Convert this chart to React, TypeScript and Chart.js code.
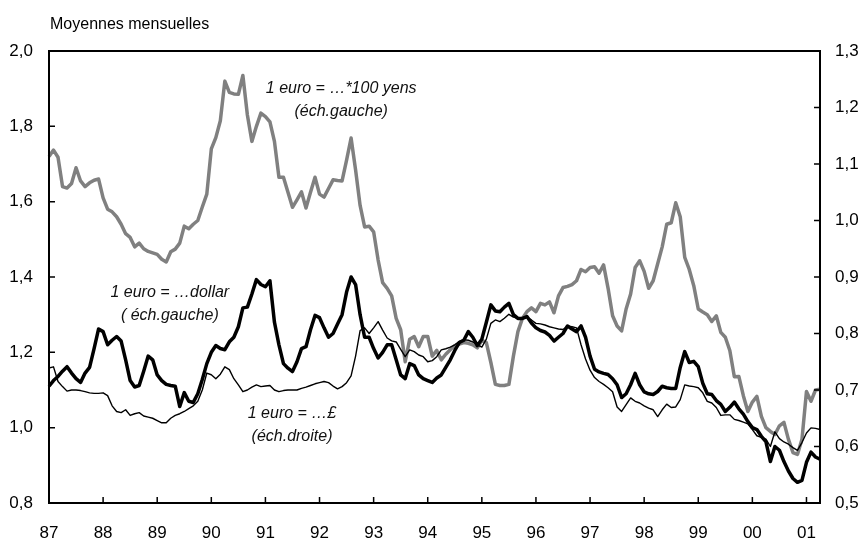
import { useEffect, useRef } from 'react';
import { Chart, registerables } from 'chart.js';

Chart.register(...registerables);

// ---------- data ----------
const YEARS = ['87', '88', '89', '90', '91', '92', '93', '94', '95', '96', '97', '98', '99', '00', '01'];
const MONTHS_IN_LAST_YEAR = 4;

// 1 euro = ... *100 yens (left scale)
const YEN = [
  1.72, 1.737, 1.718, 1.64, 1.636, 1.648, 1.69, 1.655, 1.64, 1.65, 1.657, 1.66,
  1.61, 1.58, 1.573, 1.56, 1.54, 1.515, 1.505, 1.48, 1.49, 1.475, 1.468, 1.464,
  1.46, 1.447, 1.44, 1.467, 1.474, 1.49, 1.535, 1.528, 1.54, 1.55, 1.586, 1.62,
  1.74, 1.77, 1.815, 1.92, 1.89, 1.886, 1.885, 1.935, 1.83, 1.76, 1.8, 1.835,
  1.826, 1.812, 1.76, 1.665, 1.665, 1.625, 1.585, 1.605, 1.626, 1.583, 1.625, 1.665,
  1.62, 1.612, 1.635, 1.658, 1.656, 1.655, 1.71, 1.769, 1.684, 1.59, 1.533, 1.535,
  1.52, 1.445, 1.385, 1.37, 1.35, 1.29, 1.26, 1.175, 1.235, 1.242, 1.215, 1.242,
  1.242, 1.19, 1.205, 1.18, 1.195, 1.207, 1.218, 1.222, 1.226, 1.224, 1.22, 1.212,
  1.232, 1.226, 1.173, 1.115, 1.112, 1.112, 1.115, 1.19, 1.255, 1.29, 1.308, 1.318,
  1.308, 1.33, 1.326, 1.334, 1.305, 1.35, 1.372, 1.375, 1.38, 1.39, 1.42, 1.414,
  1.425, 1.427, 1.41, 1.432, 1.37, 1.297, 1.27, 1.257, 1.315, 1.355, 1.425, 1.443,
  1.415, 1.37, 1.39, 1.435, 1.48, 1.54, 1.544, 1.597, 1.56, 1.452, 1.42, 1.377,
  1.315, 1.307, 1.3, 1.282, 1.297, 1.253, 1.24, 1.205, 1.135, 1.136, 1.085, 1.043,
  1.068, 1.083, 1.03, 1.0, 0.99, 0.982, 1.005, 1.014, 0.969, 0.934, 0.929, 0.969,
  1.096, 1.07, 1.1, 1.102,
];

// 1 euro = ... dollar (left scale)
const DOLLAR = [
  1.11, 1.125, 1.136, 1.15, 1.162, 1.145, 1.13, 1.12, 1.145, 1.16, 1.21, 1.262,
  1.255, 1.22, 1.232, 1.242, 1.23, 1.18, 1.125, 1.108, 1.112, 1.15, 1.19, 1.18,
  1.14, 1.125, 1.115, 1.112, 1.11, 1.056, 1.093, 1.07, 1.067, 1.09, 1.128, 1.17,
  1.2, 1.218, 1.21, 1.207, 1.228, 1.24, 1.268, 1.318, 1.32, 1.355, 1.393, 1.38,
  1.374, 1.39, 1.28, 1.22, 1.17, 1.158, 1.149, 1.175, 1.21, 1.215, 1.26, 1.298,
  1.292, 1.265, 1.24, 1.25, 1.275, 1.3, 1.36, 1.4, 1.38, 1.3, 1.24, 1.24,
  1.21, 1.185, 1.2, 1.22, 1.22, 1.18, 1.14, 1.13, 1.17, 1.165, 1.14, 1.13,
  1.125, 1.12, 1.132, 1.14, 1.16, 1.18, 1.205, 1.226, 1.232, 1.255, 1.24, 1.218,
  1.235, 1.28, 1.326, 1.31, 1.308, 1.32, 1.33, 1.3, 1.29, 1.29, 1.295, 1.278,
  1.265, 1.258, 1.254, 1.245, 1.23, 1.24, 1.25, 1.27, 1.262, 1.255, 1.27, 1.24,
  1.19, 1.155, 1.148, 1.144, 1.141, 1.13, 1.114, 1.08, 1.09, 1.114, 1.144, 1.114,
  1.095, 1.09, 1.088, 1.096, 1.11, 1.106, 1.104, 1.104, 1.16, 1.202, 1.173, 1.176,
  1.162, 1.118, 1.09, 1.088, 1.072, 1.062, 1.043, 1.054, 1.068, 1.05, 1.036, 1.016,
  1.0, 0.995, 0.977, 0.963, 0.91, 0.95, 0.94, 0.91, 0.885, 0.865, 0.855, 0.86,
  0.908, 0.935, 0.922, 0.916,
];

// 1 euro = ... £ (right scale)
const POUND = [
  0.739, 0.741, 0.715, 0.706, 0.698, 0.7, 0.7, 0.699, 0.697, 0.695, 0.694, 0.694,
  0.695, 0.69, 0.672, 0.662, 0.66, 0.665, 0.655, 0.658, 0.66, 0.654, 0.652, 0.65,
  0.646, 0.642, 0.642, 0.65, 0.655, 0.658, 0.662, 0.667, 0.672, 0.68, 0.7, 0.73,
  0.727, 0.72, 0.728, 0.741, 0.736, 0.72, 0.709, 0.697, 0.7, 0.705, 0.709, 0.706,
  0.707, 0.708, 0.7, 0.697, 0.699, 0.7, 0.7, 0.7, 0.703, 0.705, 0.708, 0.711,
  0.713, 0.715, 0.713, 0.707, 0.702, 0.706, 0.713, 0.725, 0.76, 0.805, 0.81, 0.8,
  0.81, 0.821, 0.806, 0.792, 0.787, 0.785, 0.772, 0.759, 0.771, 0.768, 0.762, 0.759,
  0.75, 0.752, 0.759, 0.771, 0.773, 0.776, 0.78, 0.786, 0.789, 0.788, 0.785, 0.78,
  0.776, 0.79, 0.818, 0.824, 0.821, 0.827, 0.834, 0.829, 0.827, 0.828, 0.829, 0.824,
  0.818, 0.817, 0.815, 0.812, 0.81, 0.808, 0.807, 0.813, 0.812, 0.81, 0.78, 0.755,
  0.735, 0.722, 0.715, 0.71, 0.704, 0.697, 0.67, 0.662, 0.674, 0.686, 0.68, 0.677,
  0.672, 0.668, 0.665, 0.653, 0.665, 0.675, 0.669, 0.67, 0.683, 0.709, 0.707, 0.706,
  0.704, 0.695, 0.68, 0.677, 0.669, 0.655, 0.656, 0.656, 0.648, 0.646, 0.643, 0.64,
  0.63, 0.619, 0.616, 0.613, 0.6, 0.626, 0.614, 0.608, 0.604, 0.598, 0.593, 0.607,
  0.624, 0.633, 0.632, 0.63,
];

const LEFT_MIN = 0.8;
const LEFT_MAX = 2.0;
const LEFT_STEP = 0.2;
const RIGHT_MIN = 0.5;
const RIGHT_MAX = 1.3;
const RIGHT_STEP = 0.1;

const TITLE = 'Moyennes mensuelles';
const NOTES = [
  { lines: ['1 euro = \u2026*100 yens', '(\u00e9ch.gauche)'], month: 64.8, value: 1.9 },
  { lines: ['1 euro = \u2026dollar', '( \u00e9ch.gauche)'], month: 26.8, value: 1.358 },
  { lines: ['1 euro = \u2026\u00a3', '(\u00e9ch.droite)'], month: 53.9, value: 1.038 },
];

// ---------- style ----------
const FONT = '"Liberation Sans", Arial, sans-serif';
const GRAY = '#808080';

const MONTH_LABELS: string[] = [];
YEARS.forEach((y, yi) => {
  const n = yi === YEARS.length - 1 ? MONTHS_IN_LAST_YEAR : 12;
  for (let m = 1; m <= n; m++) MONTH_LABELS.push(`${y}-${m}`);
});

const fmt = (v: number) => v.toFixed(1).replace('.', ',');

const framePlugin = {
  id: 'frame',
  afterDatasetsDraw(chart: any) {
    const { ctx, chartArea: a, scales } = chart;
    const yl = scales.y;
    const yr = scales.y1;
    const x = scales.x;
    ctx.save();
    ctx.strokeStyle = '#000';
    ctx.lineWidth = 1.5;
    ctx.beginPath();
    yl.ticks.forEach((_t: any, i: number) => {
      const p = yl.getPixelForTick(i);
      ctx.moveTo(a.left, p);
      ctx.lineTo(a.left + 6, p);
    });
    yr.ticks.forEach((_t: any, i: number) => {
      const p = yr.getPixelForTick(i);
      ctx.moveTo(a.right - 6, p);
      ctx.lineTo(a.right, p);
    });
    for (let i = 0; i < MONTH_LABELS.length; i += 12) {
      const p = x.getPixelForValue(i);
      ctx.moveTo(p, a.bottom);
      ctx.lineTo(p, a.bottom - 6);
    }
    ctx.stroke();
    ctx.lineWidth = 2;
    ctx.strokeRect(a.left, a.top, a.right - a.left, a.bottom - a.top);

    ctx.fillStyle = '#111';
    ctx.font = `italic 16px ${FONT}`;
    ctx.textAlign = 'center';
    ctx.textBaseline = 'middle';
    NOTES.forEach((n) => {
      const cx = x.getPixelForValue(n.month);
      const cy = yl.getPixelForValue(n.value);
      n.lines.forEach((l, k) => ctx.fillText(l, cx, cy + k * 23));
    });

    ctx.font = `16px ${FONT}`;
    ctx.textAlign = 'left';
    ctx.fillStyle = '#000';
    ctx.fillText(TITLE, 50, 25);
    ctx.restore();
  },
};

export default function App() {
  const ref = useRef<HTMLCanvasElement | null>(null);
  useEffect(() => {
    if (!ref.current) return;
    const chart = new Chart(ref.current, {
      type: 'line',
      data: {
        labels: MONTH_LABELS,
        datasets: [
          {
            label: '1 euro = ...£',
            data: POUND,
            yAxisID: 'y1',
            borderColor: '#000',
            borderWidth: 1.4,
            pointRadius: 0,
            tension: 0,
            order: 0,
            borderJoinStyle: 'round',
          },
          {
            label: '1 euro = ...dollar',
            data: DOLLAR,
            yAxisID: 'y',
            borderColor: '#000',
            borderWidth: 3.5,
            pointRadius: 0,
            tension: 0,
            order: 1,
            borderJoinStyle: 'round',
          },
          {
            label: '1 euro = ...*100 yens',
            data: YEN,
            yAxisID: 'y',
            borderColor: GRAY,
            borderWidth: 3.5,
            pointRadius: 0,
            tension: 0,
            order: 2,
            borderJoinStyle: 'round',
          },
        ],
      },
      options: {
        animation: false,
        responsive: false,
        devicePixelRatio: 1,
        layout: { padding: { top: 51, left: 0, right: 0, bottom: 0 } },
        plugins: { legend: { display: false }, tooltip: { enabled: false }, title: { display: false } },
        scales: {
          x: {
            type: 'category',
            offset: false,
            grid: { display: false, drawTicks: false },
            border: { display: false },
            ticks: {
              autoSkip: false,
              maxRotation: 0,
              minRotation: 0,
              padding: 20,
              color: '#000',
              font: { family: FONT, size: 17 },
              callback: (_v: any, i: number) => (i % 12 === 0 ? YEARS[i / 12] : ''),
            },
            afterFit: (s: any) => {
              s.height = 36;
            },
          },
          y: {
            position: 'left',
            min: LEFT_MIN,
            max: LEFT_MAX,
            grid: { display: false, drawTicks: false },
            border: { display: false },
            ticks: {
              stepSize: LEFT_STEP,
              padding: 16,
              color: '#000',
              font: { family: FONT, size: 17 },
              callback: (v: any) => fmt(Number(v)),
            },
            afterFit: (s: any) => {
              s.width = 49;
            },
          },
          y1: {
            position: 'right',
            min: RIGHT_MIN,
            max: RIGHT_MAX,
            grid: { display: false, drawTicks: false },
            border: { display: false },
            ticks: {
              stepSize: RIGHT_STEP,
              padding: 15,
              color: '#000',
              font: { family: FONT, size: 17 },
              callback: (v: any) => fmt(Number(v)),
            },
            afterFit: (s: any) => {
              s.width = 41;
            },
          },
        },
      },
      plugins: [framePlugin],
    });
    return () => chart.destroy();
  }, []);
  return (
    <div style={{ position: 'fixed', left: 0, top: 0, width: 861, height: 539, background: '#fff' }}>
      <canvas ref={ref} width={861} height={539} />
    </div>
  );
}
